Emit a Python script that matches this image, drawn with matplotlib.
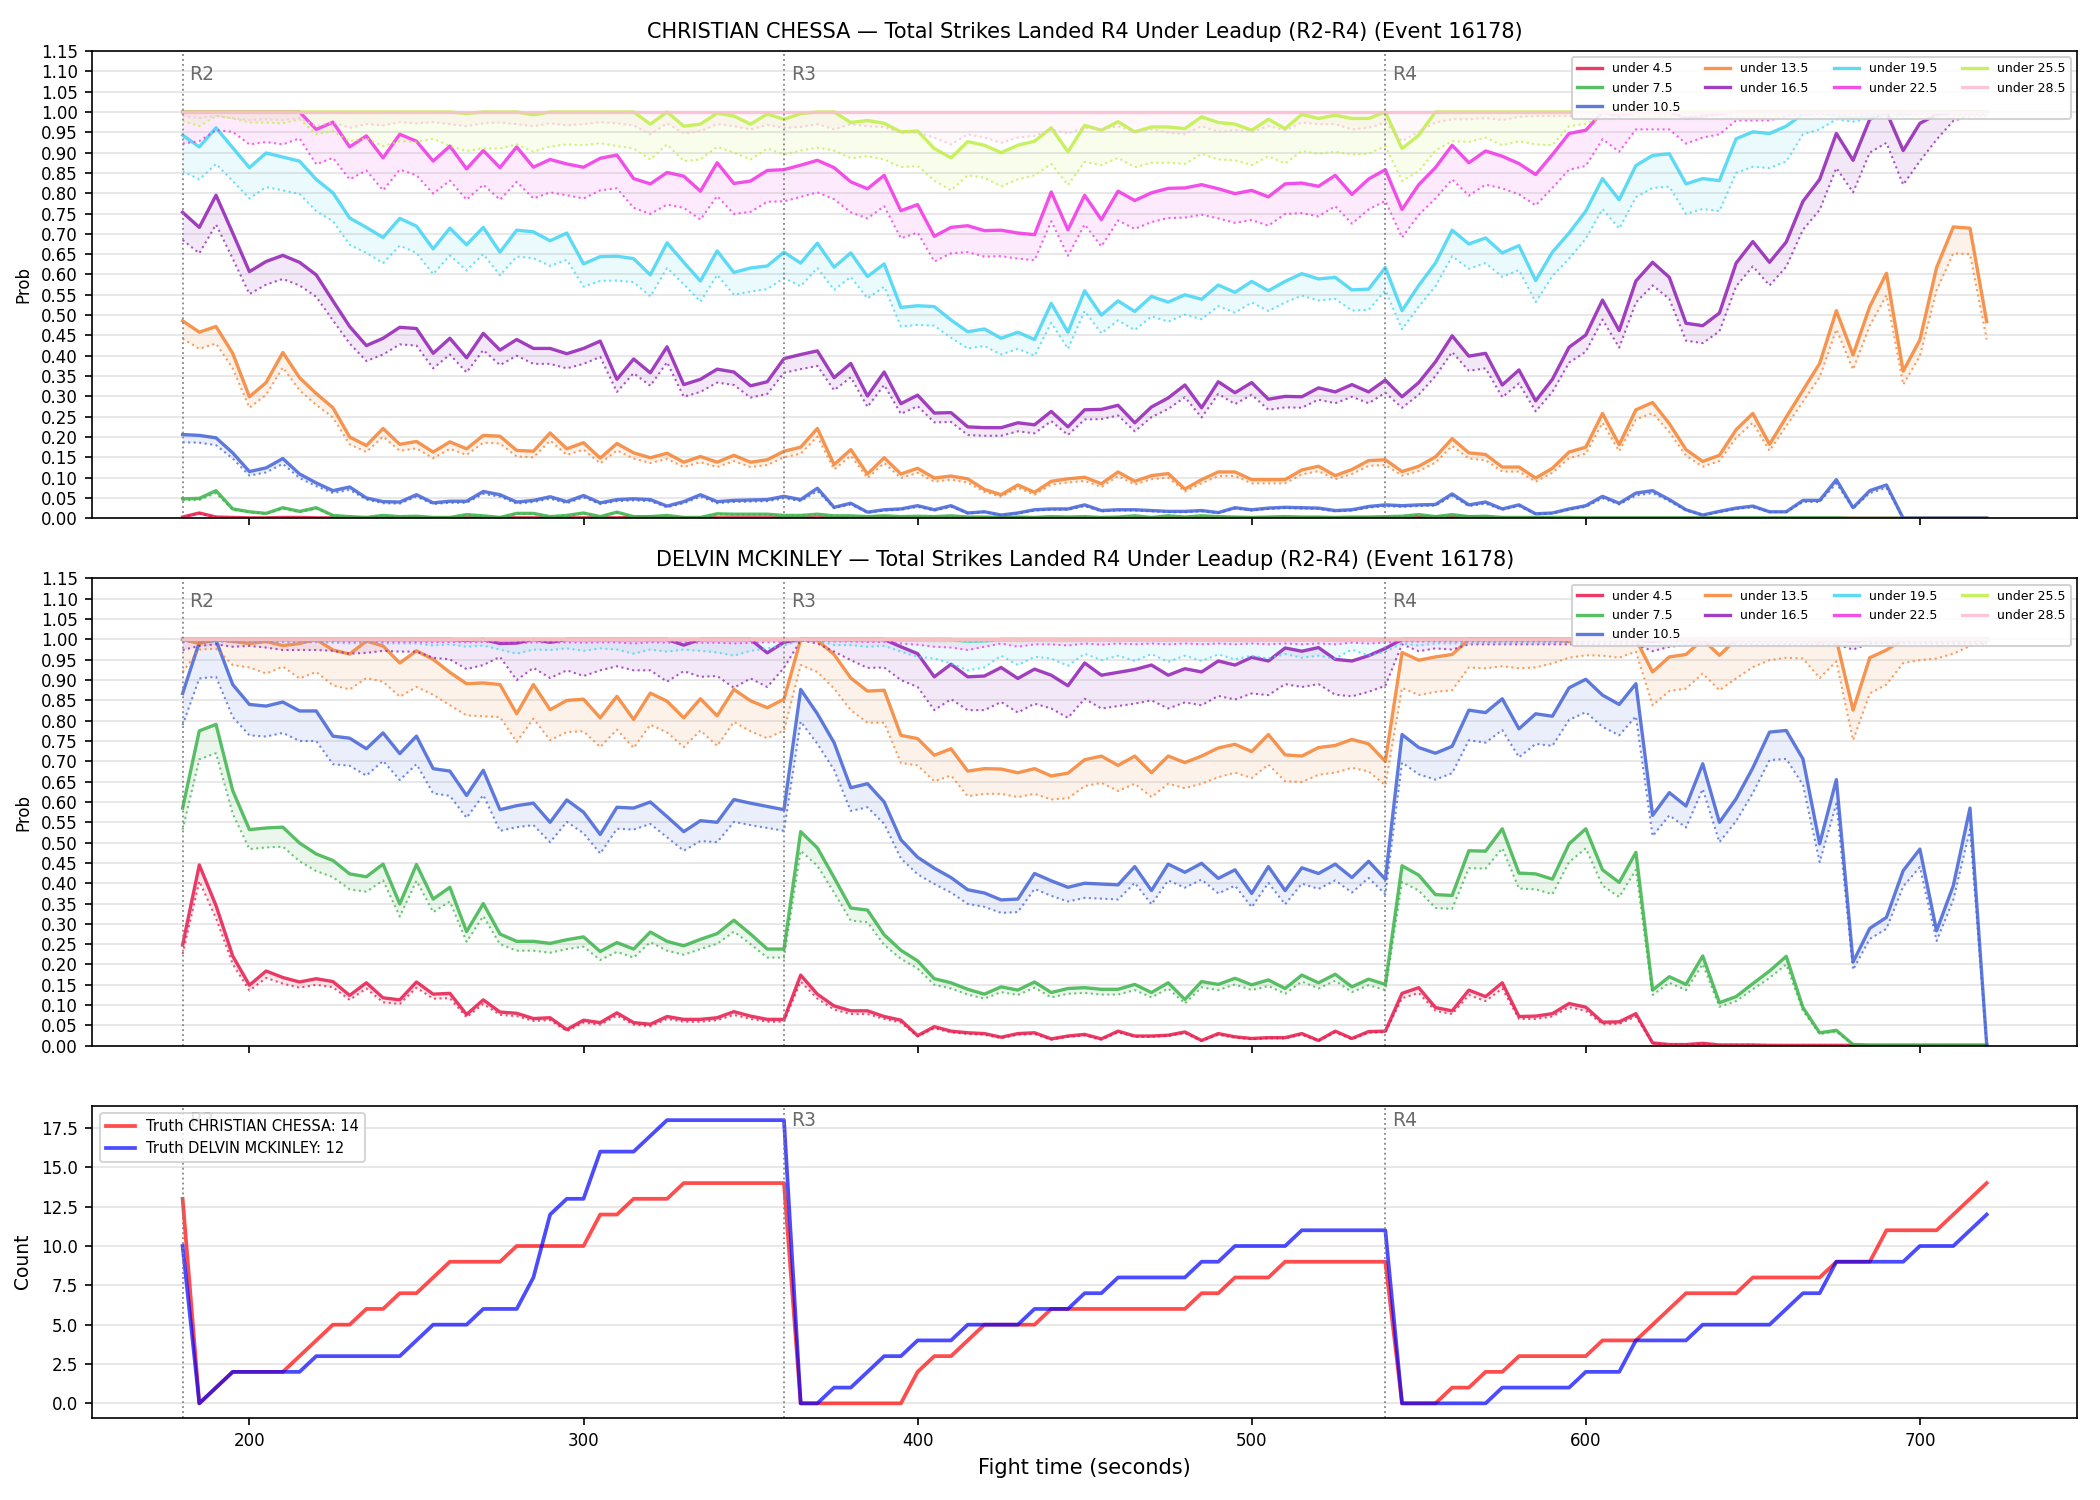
import numpy as np
import matplotlib
matplotlib.use('Agg')
from matplotlib import pyplot as plt

# sample every 5 s from the start of R2 to the end of R4
fight_time = np.arange(180, 725, 5)

line_labels = ['under 4.5', 'under 7.5', 'under 10.5', 'under 13.5', 'under 16.5',
               'under 19.5', 'under 22.5', 'under 25.5', 'under 28.5']
line_colors = ['#e6194b', '#3cb44b', '#4363d8', '#f58231', '#911eb4',
               '#42d4f4', '#f032e6', '#bfef45', '#fabed4']

round_names = ['R2', 'R3', 'R4']
round_starts = [180, 360, 540]

# ---------------- CHRISTIAN CHESSA (market prob / fair prob) ----------------
chessa_u45 = [
    0.003, 0.013, 0.003, 0.002, 0.001, 0.001, 0.002, 0.002, 0.001, 0.001, 0.001, 0.001, 0.002, 0.001, 0.001, 0.001, 0.001, 0.001, 0.001,
    0.001, 0.001, 0.001, 0.001, 0.001, 0.001, 0.001, 0.001, 0.002, 0.003, 0.001, 0.001, 0.001, 0.001, 0.001, 0.001, 0.001, 0.001,
    0.001, 0.001, 0.001, 0.001, 0.002, 0.003, 0.001, 0.001, 0.001, 0.001, 0.001, 0.001, 0.001, 0.001, 0.001, 0.001, 0.001, 0.001,
    0.001, 0.001, 0.001, 0.001, 0.001, 0.001, 0.001, 0.001, 0.001, 0.001, 0.001, 0.001, 0.001, 0.001, 0.001, 0.001, 0.001, 0.001,
    0.001, 0.002, 0.003, 0.002, 0.003, 0.002, 0.001, 0.001, 0.001, 0.000, 0.000, 0.000, 0.000, 0.000, 0.000, 0.000, 0.000, 0.000,
    0.000, 0.000, 0.000, 0.000, 0.000, 0.000, 0.000, 0.000, 0.000, 0.000, 0.000, 0.000, 0.000, 0.000, 0.000, 0.000, 0.000, 0.000]
chessa_u45_fair = [
    0.003, 0.012, 0.003, 0.002, 0.001, 0.001, 0.002, 0.002, 0.001, 0.001, 0.001, 0.001, 0.002, 0.001, 0.001, 0.001, 0.001, 0.001, 0.001,
    0.001, 0.001, 0.001, 0.001, 0.001, 0.001, 0.001, 0.001, 0.002, 0.003, 0.001, 0.001, 0.001, 0.001, 0.001, 0.001, 0.001, 0.001,
    0.001, 0.001, 0.001, 0.001, 0.002, 0.003, 0.001, 0.001, 0.001, 0.001, 0.001, 0.001, 0.001, 0.001, 0.001, 0.001, 0.001, 0.001,
    0.001, 0.001, 0.001, 0.001, 0.001, 0.001, 0.001, 0.001, 0.001, 0.001, 0.001, 0.001, 0.001, 0.001, 0.001, 0.001, 0.001, 0.001,
    0.001, 0.002, 0.003, 0.002, 0.003, 0.002, 0.001, 0.001, 0.001, 0.000, 0.000, 0.000, 0.000, 0.000, 0.000, 0.000, 0.000, 0.000,
    0.000, 0.000, 0.000, 0.000, 0.000, 0.000, 0.000, 0.000, 0.000, 0.000, 0.000, 0.000, 0.000, 0.000, 0.000, 0.000, 0.000, 0.000]

chessa_u75 = [
    0.048, 0.049, 0.068, 0.023, 0.016, 0.012, 0.026, 0.017, 0.026, 0.007, 0.004, 0.002, 0.007, 0.004, 0.005, 0.002, 0.002, 0.009, 0.006,
    0.002, 0.012, 0.012, 0.004, 0.007, 0.013, 0.004, 0.015, 0.004, 0.004, 0.007, 0.002, 0.002, 0.011, 0.010, 0.010, 0.010, 0.007,
    0.007, 0.010, 0.006, 0.006, 0.004, 0.006, 0.004, 0.005, 0.004, 0.006, 0.003, 0.003, 0.002, 0.003, 0.002, 0.004, 0.003, 0.004,
    0.002, 0.003, 0.006, 0.002, 0.006, 0.003, 0.006, 0.004, 0.003, 0.002, 0.003, 0.004, 0.003, 0.003, 0.002, 0.003, 0.003, 0.004,
    0.005, 0.009, 0.004, 0.009, 0.004, 0.005, 0.002, 0.002, 0.002, 0.002, 0.002, 0.001, 0.001, 0.001, 0.001, 0.001, 0.001, 0.001,
    0.001, 0.001, 0.001, 0.001, 0.001, 0.001, 0.001, 0.001, 0.001, 0.000, 0.000, 0.000, 0.000, 0.000, 0.000, 0.000, 0.000, 0.000]
chessa_u75_fair = [
    0.044, 0.045, 0.062, 0.021, 0.015, 0.011, 0.024, 0.015, 0.024, 0.006, 0.004, 0.002, 0.006, 0.004, 0.005, 0.002, 0.002, 0.008, 0.005,
    0.002, 0.011, 0.011, 0.004, 0.006, 0.012, 0.004, 0.014, 0.004, 0.004, 0.006, 0.002, 0.002, 0.010, 0.009, 0.009, 0.009, 0.006,
    0.006, 0.009, 0.005, 0.005, 0.004, 0.005, 0.004, 0.005, 0.004, 0.005, 0.003, 0.003, 0.002, 0.003, 0.002, 0.004, 0.003, 0.004,
    0.002, 0.003, 0.005, 0.002, 0.005, 0.003, 0.005, 0.004, 0.003, 0.002, 0.003, 0.004, 0.003, 0.003, 0.002, 0.003, 0.003, 0.004,
    0.005, 0.008, 0.004, 0.008, 0.004, 0.005, 0.002, 0.002, 0.002, 0.002, 0.002, 0.001, 0.001, 0.001, 0.001, 0.001, 0.001, 0.001,
    0.001, 0.001, 0.001, 0.001, 0.001, 0.001, 0.001, 0.001, 0.001, 0.000, 0.000, 0.000, 0.000, 0.000, 0.000, 0.000, 0.000, 0.000]

chessa_u105 = [
    0.206, 0.204, 0.198, 0.161, 0.115, 0.124, 0.147, 0.109, 0.087, 0.068, 0.077, 0.050, 0.041, 0.040, 0.058, 0.038, 0.042, 0.042, 0.066,
    0.058, 0.040, 0.044, 0.053, 0.041, 0.056, 0.038, 0.046, 0.048, 0.046, 0.030, 0.041, 0.058, 0.041, 0.044, 0.045, 0.046, 0.054,
    0.046, 0.074, 0.027, 0.037, 0.015, 0.021, 0.023, 0.031, 0.021, 0.031, 0.013, 0.016, 0.008, 0.013, 0.021, 0.023, 0.023, 0.033,
    0.019, 0.021, 0.021, 0.019, 0.017, 0.017, 0.019, 0.014, 0.026, 0.021, 0.025, 0.027, 0.026, 0.025, 0.019, 0.021, 0.029, 0.033,
    0.031, 0.033, 0.034, 0.060, 0.033, 0.040, 0.023, 0.033, 0.011, 0.013, 0.023, 0.031, 0.054, 0.037, 0.062, 0.068, 0.046, 0.021,
    0.008, 0.017, 0.025, 0.030, 0.016, 0.016, 0.044, 0.044, 0.095, 0.026, 0.068, 0.082, 0.000, 0.000, 0.000, 0.000, 0.000, 0.000]
chessa_u105_fair = [
    0.187, 0.186, 0.180, 0.147, 0.105, 0.113, 0.134, 0.099, 0.079, 0.062, 0.070, 0.046, 0.037, 0.036, 0.053, 0.035, 0.038, 0.038, 0.060,
    0.053, 0.036, 0.040, 0.048, 0.037, 0.051, 0.035, 0.042, 0.044, 0.042, 0.027, 0.037, 0.053, 0.037, 0.040, 0.041, 0.042, 0.049,
    0.042, 0.067, 0.025, 0.034, 0.014, 0.019, 0.021, 0.028, 0.019, 0.028, 0.012, 0.015, 0.007, 0.012, 0.019, 0.021, 0.021, 0.030,
    0.017, 0.019, 0.019, 0.017, 0.015, 0.015, 0.017, 0.013, 0.024, 0.019, 0.023, 0.025, 0.024, 0.023, 0.017, 0.019, 0.026, 0.030,
    0.028, 0.030, 0.031, 0.055, 0.030, 0.036, 0.021, 0.030, 0.010, 0.012, 0.021, 0.028, 0.049, 0.034, 0.056, 0.062, 0.042, 0.019,
    0.007, 0.015, 0.023, 0.027, 0.015, 0.015, 0.040, 0.040, 0.086, 0.024, 0.062, 0.075, 0.000, 0.000, 0.000, 0.000, 0.000, 0.000]

chessa_u135 = [
    0.486, 0.458, 0.472, 0.406, 0.299, 0.334, 0.408, 0.346, 0.307, 0.272, 0.200, 0.179, 0.221, 0.182, 0.189, 0.163, 0.188, 0.171, 0.204,
    0.202, 0.167, 0.165, 0.210, 0.171, 0.186, 0.148, 0.184, 0.161, 0.149, 0.160, 0.138, 0.152, 0.138, 0.155, 0.138, 0.144, 0.165,
    0.175, 0.221, 0.132, 0.169, 0.109, 0.149, 0.109, 0.123, 0.099, 0.104, 0.097, 0.071, 0.058, 0.082, 0.064, 0.091, 0.097, 0.101,
    0.085, 0.114, 0.091, 0.105, 0.110, 0.072, 0.095, 0.114, 0.114, 0.095, 0.095, 0.095, 0.119, 0.128, 0.105, 0.120, 0.142, 0.144,
    0.115, 0.128, 0.151, 0.196, 0.161, 0.157, 0.126, 0.126, 0.099, 0.123, 0.163, 0.175, 0.258, 0.181, 0.267, 0.285, 0.233, 0.169,
    0.140, 0.155, 0.218, 0.258, 0.182, 0.249, 0.315, 0.381, 0.511, 0.402, 0.521, 0.603, 0.362, 0.439, 0.617, 0.717, 0.714, 0.484]
chessa_u135_fair = [
    0.442, 0.417, 0.430, 0.369, 0.272, 0.304, 0.371, 0.315, 0.279, 0.248, 0.182, 0.163, 0.201, 0.166, 0.172, 0.148, 0.171, 0.156, 0.186,
    0.184, 0.152, 0.150, 0.191, 0.156, 0.169, 0.135, 0.167, 0.147, 0.136, 0.146, 0.126, 0.138, 0.126, 0.141, 0.126, 0.131, 0.150,
    0.159, 0.201, 0.120, 0.154, 0.099, 0.136, 0.099, 0.112, 0.090, 0.095, 0.088, 0.065, 0.053, 0.075, 0.058, 0.083, 0.088, 0.092,
    0.077, 0.104, 0.083, 0.096, 0.100, 0.066, 0.086, 0.104, 0.104, 0.086, 0.086, 0.086, 0.108, 0.116, 0.096, 0.109, 0.129, 0.131,
    0.105, 0.116, 0.137, 0.178, 0.147, 0.143, 0.115, 0.115, 0.090, 0.112, 0.148, 0.159, 0.235, 0.165, 0.243, 0.259, 0.212, 0.154,
    0.127, 0.141, 0.198, 0.235, 0.166, 0.227, 0.287, 0.347, 0.465, 0.366, 0.474, 0.549, 0.329, 0.399, 0.561, 0.652, 0.650, 0.440]

chessa_u165 = [
    0.753, 0.716, 0.795, 0.702, 0.607, 0.632, 0.647, 0.630, 0.599, 0.535, 0.472, 0.425, 0.443, 0.470, 0.467, 0.406, 0.443, 0.395, 0.455,
    0.414, 0.440, 0.418, 0.418, 0.405, 0.418, 0.436, 0.342, 0.392, 0.358, 0.422, 0.329, 0.342, 0.367, 0.360, 0.326, 0.336, 0.393,
    0.403, 0.412, 0.346, 0.381, 0.301, 0.360, 0.282, 0.303, 0.259, 0.260, 0.225, 0.223, 0.223, 0.235, 0.230, 0.263, 0.225, 0.267,
    0.268, 0.278, 0.235, 0.274, 0.296, 0.328, 0.272, 0.336, 0.309, 0.334, 0.293, 0.300, 0.299, 0.321, 0.311, 0.329, 0.311, 0.340,
    0.299, 0.334, 0.385, 0.449, 0.399, 0.406, 0.328, 0.365, 0.289, 0.342, 0.421, 0.451, 0.537, 0.462, 0.584, 0.630, 0.593, 0.480,
    0.474, 0.505, 0.628, 0.681, 0.630, 0.680, 0.780, 0.834, 0.947, 0.881, 0.982, 1.000, 0.905, 0.972, 0.994, 1.000, 1.000, 1.000]
chessa_u165_fair = [
    0.685, 0.652, 0.723, 0.639, 0.552, 0.575, 0.589, 0.573, 0.545, 0.487, 0.430, 0.387, 0.403, 0.428, 0.425, 0.369, 0.403, 0.359, 0.414,
    0.377, 0.400, 0.380, 0.380, 0.369, 0.380, 0.397, 0.311, 0.357, 0.326, 0.384, 0.299, 0.311, 0.334, 0.328, 0.297, 0.306, 0.358,
    0.367, 0.375, 0.315, 0.347, 0.274, 0.328, 0.257, 0.276, 0.236, 0.237, 0.205, 0.203, 0.203, 0.214, 0.209, 0.239, 0.205, 0.243,
    0.244, 0.253, 0.214, 0.249, 0.269, 0.298, 0.248, 0.306, 0.281, 0.304, 0.267, 0.273, 0.272, 0.292, 0.283, 0.299, 0.283, 0.309,
    0.272, 0.304, 0.350, 0.409, 0.363, 0.369, 0.298, 0.332, 0.263, 0.311, 0.383, 0.410, 0.489, 0.420, 0.531, 0.573, 0.540, 0.437,
    0.431, 0.460, 0.571, 0.620, 0.573, 0.619, 0.710, 0.759, 0.862, 0.802, 0.900, 0.924, 0.821, 0.879, 0.932, 0.978, 0.990, 0.990]

chessa_u195 = [
    0.943, 0.914, 0.961, 0.912, 0.863, 0.899, 0.889, 0.879, 0.834, 0.801, 0.739, 0.716, 0.691, 0.738, 0.719, 0.663, 0.714, 0.673, 0.716,
    0.655, 0.709, 0.705, 0.683, 0.702, 0.626, 0.644, 0.645, 0.639, 0.599, 0.678, 0.630, 0.584, 0.658, 0.605, 0.616, 0.621, 0.655,
    0.628, 0.677, 0.618, 0.653, 0.595, 0.626, 0.519, 0.523, 0.521, 0.488, 0.459, 0.466, 0.443, 0.458, 0.440, 0.529, 0.458, 0.560,
    0.500, 0.535, 0.509, 0.546, 0.532, 0.550, 0.539, 0.574, 0.556, 0.583, 0.560, 0.583, 0.602, 0.589, 0.593, 0.562, 0.564, 0.617,
    0.511, 0.573, 0.628, 0.709, 0.675, 0.690, 0.653, 0.671, 0.585, 0.655, 0.702, 0.756, 0.836, 0.784, 0.868, 0.893, 0.897, 0.823,
    0.836, 0.831, 0.934, 0.951, 0.947, 0.965, 0.995, 1.000, 0.990, 0.985, 0.990, 1.000, 0.995, 1.000, 1.000, 1.000, 1.000, 1.000]
chessa_u195_fair = [
    0.854, 0.834, 0.872, 0.830, 0.787, 0.815, 0.807, 0.798, 0.756, 0.731, 0.673, 0.653, 0.628, 0.671, 0.653, 0.601, 0.647, 0.610, 0.650,
    0.598, 0.644, 0.640, 0.621, 0.636, 0.570, 0.584, 0.585, 0.581, 0.546, 0.616, 0.576, 0.533, 0.599, 0.550, 0.558, 0.564, 0.591,
    0.571, 0.616, 0.562, 0.594, 0.541, 0.570, 0.472, 0.476, 0.474, 0.444, 0.418, 0.424, 0.403, 0.417, 0.400, 0.481, 0.417, 0.510,
    0.455, 0.487, 0.463, 0.497, 0.484, 0.501, 0.490, 0.522, 0.506, 0.531, 0.510, 0.531, 0.548, 0.536, 0.540, 0.511, 0.513, 0.561,
    0.465, 0.521, 0.571, 0.645, 0.614, 0.628, 0.594, 0.611, 0.532, 0.596, 0.639, 0.688, 0.761, 0.713, 0.790, 0.813, 0.816, 0.749,
    0.761, 0.756, 0.850, 0.865, 0.862, 0.878, 0.945, 0.957, 0.982, 0.976, 0.985, 0.988, 0.990, 0.990, 0.990, 0.990, 0.990, 0.990]

chessa_u225 = [
    1.000, 1.000, 1.000, 1.000, 1.000, 1.000, 1.000, 1.000, 0.957, 0.975, 0.914, 0.941, 0.887, 0.945, 0.928, 0.879, 0.916, 0.860, 0.905,
    0.863, 0.914, 0.864, 0.883, 0.872, 0.864, 0.886, 0.894, 0.836, 0.823, 0.851, 0.842, 0.805, 0.875, 0.824, 0.830, 0.856, 0.858,
    0.869, 0.881, 0.863, 0.828, 0.811, 0.844, 0.757, 0.772, 0.694, 0.716, 0.720, 0.708, 0.709, 0.702, 0.698, 0.803, 0.710, 0.795,
    0.735, 0.805, 0.782, 0.801, 0.812, 0.813, 0.821, 0.811, 0.799, 0.807, 0.791, 0.823, 0.825, 0.817, 0.844, 0.797, 0.835, 0.858,
    0.760, 0.821, 0.863, 0.918, 0.875, 0.904, 0.891, 0.873, 0.846, 0.895, 0.947, 0.955, 1.000, 0.990, 1.000, 1.000, 1.000, 0.985,
    0.990, 0.995, 1.000, 1.000, 1.000, 1.000, 1.000, 1.000, 1.000, 1.000, 1.000, 1.000, 1.000, 1.000, 1.000, 1.000, 1.000, 1.000]
chessa_u225_fair = [
    0.922, 0.928, 0.955, 0.951, 0.920, 0.926, 0.920, 0.935, 0.871, 0.887, 0.834, 0.856, 0.807, 0.858, 0.844, 0.799, 0.831, 0.784, 0.821,
    0.784, 0.828, 0.787, 0.802, 0.795, 0.787, 0.807, 0.812, 0.764, 0.749, 0.772, 0.764, 0.735, 0.793, 0.749, 0.754, 0.779, 0.780,
    0.791, 0.802, 0.785, 0.753, 0.738, 0.768, 0.689, 0.703, 0.632, 0.652, 0.655, 0.644, 0.645, 0.639, 0.635, 0.731, 0.646, 0.723,
    0.669, 0.733, 0.712, 0.729, 0.739, 0.740, 0.747, 0.738, 0.727, 0.734, 0.720, 0.749, 0.751, 0.743, 0.768, 0.725, 0.760, 0.781,
    0.691, 0.747, 0.787, 0.834, 0.794, 0.821, 0.812, 0.797, 0.770, 0.813, 0.858, 0.867, 0.933, 0.902, 0.957, 0.957, 0.957, 0.922,
    0.937, 0.945, 0.979, 0.979, 0.979, 0.990, 0.994, 0.995, 0.995, 0.995, 0.995, 0.995, 0.995, 0.995, 0.995, 0.995, 0.995, 0.995]

chessa_u255 = [
    1.000, 1.000, 1.000, 1.000, 1.000, 1.000, 1.000, 1.000, 1.000, 1.000, 1.000, 1.000, 1.000, 1.000, 1.000, 1.000, 1.000, 0.996, 1.000,
    1.000, 1.000, 0.993, 1.000, 1.000, 1.000, 1.000, 1.000, 1.000, 0.970, 1.000, 0.965, 0.970, 0.997, 0.990, 0.970, 0.995, 0.982,
    0.996, 1.000, 1.000, 0.974, 0.979, 0.972, 0.951, 0.953, 0.910, 0.887, 0.927, 0.918, 0.900, 0.918, 0.928, 0.961, 0.902, 0.967,
    0.955, 0.976, 0.951, 0.963, 0.963, 0.959, 0.988, 0.974, 0.970, 0.955, 0.982, 0.959, 0.994, 0.984, 0.992, 0.984, 0.984, 1.000,
    0.910, 0.943, 1.000, 1.000, 1.000, 1.000, 1.000, 1.000, 1.000, 1.000, 1.000, 1.000, 1.000, 1.000, 1.000, 1.000, 1.000, 1.000,
    1.000, 1.000, 1.000, 1.000, 1.000, 1.000, 1.000, 1.000, 1.000, 1.000, 1.000, 1.000, 1.000, 1.000, 1.000, 1.000, 1.000, 1.000]
chessa_u255_fair = [
    0.978, 0.965, 0.990, 0.984, 0.974, 0.974, 0.972, 0.982, 0.945, 0.953, 0.928, 0.935, 0.916, 0.928, 0.926, 0.934, 0.916, 0.904, 0.910,
    0.910, 0.920, 0.902, 0.915, 0.920, 0.918, 0.923, 0.916, 0.910, 0.883, 0.920, 0.879, 0.883, 0.914, 0.900, 0.883, 0.910, 0.895,
    0.905, 0.912, 0.905, 0.886, 0.891, 0.883, 0.864, 0.867, 0.831, 0.807, 0.844, 0.838, 0.817, 0.834, 0.844, 0.872, 0.820, 0.877,
    0.869, 0.887, 0.864, 0.875, 0.875, 0.872, 0.897, 0.883, 0.881, 0.869, 0.891, 0.873, 0.904, 0.897, 0.902, 0.895, 0.897, 0.916,
    0.830, 0.854, 0.905, 0.928, 0.926, 0.937, 0.918, 0.928, 0.920, 0.918, 0.965, 0.971, 0.985, 0.990, 0.990, 0.985, 0.990, 0.990,
    0.990, 0.990, 0.985, 0.990, 0.990, 0.990, 0.990, 0.990, 0.990, 0.990, 0.990, 0.990, 0.990, 0.990, 0.990, 0.990, 0.990, 0.990]

chessa_u285 = [
    1.000, 1.000, 1.000, 1.000, 1.000, 1.000, 1.000, 1.000, 1.000, 1.000, 1.000, 1.000, 1.000, 1.000, 1.000, 1.000, 1.000, 1.000, 1.000,
    1.000, 1.000, 1.000, 1.000, 1.000, 1.000, 1.000, 1.000, 1.000, 1.000, 1.000, 1.000, 1.000, 1.000, 1.000, 1.000, 1.000, 1.000,
    1.000, 1.000, 1.000, 1.000, 1.000, 1.000, 1.000, 1.000, 1.000, 1.000, 1.000, 1.000, 1.000, 1.000, 1.000, 1.000, 1.000, 1.000,
    1.000, 1.000, 1.000, 1.000, 1.000, 1.000, 1.000, 1.000, 1.000, 1.000, 1.000, 1.000, 1.000, 1.000, 1.000, 1.000, 1.000, 1.000,
    1.000, 1.000, 1.000, 1.000, 1.000, 1.000, 1.000, 1.000, 1.000, 1.000, 1.000, 1.000, 1.000, 1.000, 1.000, 1.000, 1.000, 1.000,
    1.000, 1.000, 1.000, 1.000, 1.000, 1.000, 1.000, 1.000, 1.000, 1.000, 1.000, 1.000, 1.000, 1.000, 1.000, 1.000, 1.000, 1.000]
chessa_u285_fair = [
    0.990, 0.985, 0.990, 0.985, 0.980, 0.982, 0.980, 0.985, 0.965, 0.975, 0.961, 0.970, 0.967, 0.975, 0.972, 0.975, 0.970, 0.965, 0.972,
    0.974, 0.970, 0.965, 0.972, 0.967, 0.970, 0.975, 0.972, 0.967, 0.945, 0.972, 0.947, 0.953, 0.970, 0.965, 0.957, 0.968, 0.961,
    0.963, 0.970, 0.957, 0.970, 0.965, 0.963, 0.949, 0.949, 0.937, 0.920, 0.945, 0.937, 0.924, 0.937, 0.941, 0.957, 0.947, 0.961,
    0.957, 0.965, 0.951, 0.957, 0.949, 0.945, 0.965, 0.951, 0.955, 0.951, 0.965, 0.955, 0.974, 0.970, 0.970, 0.957, 0.961, 0.974,
    0.928, 0.951, 0.974, 0.982, 0.982, 0.985, 0.980, 0.988, 0.990, 0.990, 0.990, 0.990, 0.990, 0.990, 0.990, 0.990, 0.990, 0.990,
    0.990, 0.990, 0.990, 0.990, 0.990, 0.990, 0.990, 0.990, 0.990, 0.990, 0.990, 0.990, 0.990, 0.990, 0.990, 0.990, 0.990, 0.990]

# ---------------- DELVIN MCKINLEY ----------------
kinley_u45 = [
    0.248, 0.445, 0.345, 0.221, 0.149, 0.184, 0.168, 0.157, 0.165, 0.158, 0.124, 0.155, 0.118, 0.113, 0.157, 0.127, 0.129, 0.077, 0.113,
    0.083, 0.080, 0.067, 0.069, 0.040, 0.063, 0.057, 0.081, 0.057, 0.053, 0.072, 0.065, 0.065, 0.069, 0.084, 0.073, 0.065, 0.065,
    0.174, 0.127, 0.098, 0.086, 0.086, 0.072, 0.063, 0.025, 0.047, 0.036, 0.032, 0.030, 0.021, 0.030, 0.032, 0.017, 0.024, 0.028,
    0.017, 0.036, 0.024, 0.024, 0.026, 0.034, 0.013, 0.030, 0.022, 0.018, 0.020, 0.020, 0.030, 0.013, 0.036, 0.018, 0.035, 0.036,
    0.129, 0.143, 0.094, 0.086, 0.137, 0.121, 0.155, 0.072, 0.073, 0.079, 0.104, 0.095, 0.058, 0.059, 0.079, 0.007, 0.003, 0.003,
    0.006, 0.002, 0.002, 0.002, 0.001, 0.001, 0.001, 0.001, 0.001, 0.001, 0.000, 0.000, 0.000, 0.000, 0.000, 0.000, 0.000, 0.000]
kinley_u45_fair = [
    0.226, 0.405, 0.314, 0.201, 0.136, 0.167, 0.153, 0.143, 0.150, 0.144, 0.113, 0.141, 0.107, 0.103, 0.143, 0.116, 0.117, 0.070, 0.103,
    0.076, 0.073, 0.061, 0.063, 0.036, 0.057, 0.052, 0.074, 0.052, 0.048, 0.066, 0.059, 0.059, 0.063, 0.076, 0.066, 0.059, 0.059,
    0.158, 0.116, 0.089, 0.078, 0.078, 0.066, 0.057, 0.023, 0.043, 0.033, 0.029, 0.027, 0.019, 0.027, 0.029, 0.015, 0.022, 0.025,
    0.015, 0.033, 0.022, 0.022, 0.024, 0.031, 0.012, 0.027, 0.020, 0.016, 0.018, 0.018, 0.027, 0.012, 0.033, 0.016, 0.032, 0.033,
    0.117, 0.130, 0.086, 0.078, 0.125, 0.110, 0.141, 0.066, 0.066, 0.072, 0.095, 0.086, 0.053, 0.054, 0.072, 0.006, 0.003, 0.003,
    0.005, 0.002, 0.002, 0.002, 0.001, 0.001, 0.001, 0.001, 0.001, 0.001, 0.000, 0.000, 0.000, 0.000, 0.000, 0.000, 0.000, 0.000]

kinley_u75 = [
    0.585, 0.775, 0.791, 0.628, 0.532, 0.536, 0.538, 0.499, 0.472, 0.456, 0.423, 0.416, 0.447, 0.349, 0.446, 0.361, 0.390, 0.281, 0.350,
    0.275, 0.257, 0.257, 0.252, 0.261, 0.268, 0.232, 0.254, 0.238, 0.280, 0.257, 0.246, 0.262, 0.276, 0.309, 0.275, 0.238, 0.238,
    0.527, 0.487, 0.414, 0.339, 0.334, 0.273, 0.235, 0.209, 0.165, 0.155, 0.139, 0.127, 0.145, 0.137, 0.157, 0.131, 0.141, 0.143,
    0.139, 0.139, 0.151, 0.131, 0.155, 0.114, 0.158, 0.151, 0.166, 0.150, 0.162, 0.141, 0.174, 0.155, 0.176, 0.145, 0.164, 0.151,
    0.443, 0.420, 0.372, 0.370, 0.480, 0.479, 0.534, 0.425, 0.423, 0.410, 0.497, 0.534, 0.433, 0.402, 0.476, 0.137, 0.170, 0.151,
    0.221, 0.106, 0.121, 0.153, 0.184, 0.220, 0.094, 0.032, 0.038, 0.003, 0.002, 0.002, 0.002, 0.002, 0.002, 0.002, 0.002, 0.002]
kinley_u75_fair = [
    0.532, 0.705, 0.720, 0.571, 0.484, 0.488, 0.490, 0.454, 0.430, 0.415, 0.385, 0.379, 0.407, 0.318, 0.406, 0.329, 0.355, 0.256, 0.319,
    0.250, 0.234, 0.234, 0.229, 0.238, 0.244, 0.211, 0.231, 0.217, 0.255, 0.234, 0.224, 0.238, 0.251, 0.281, 0.250, 0.217, 0.217,
    0.480, 0.443, 0.377, 0.308, 0.304, 0.248, 0.214, 0.190, 0.150, 0.141, 0.126, 0.116, 0.132, 0.125, 0.143, 0.119, 0.128, 0.130,
    0.126, 0.126, 0.137, 0.119, 0.141, 0.104, 0.144, 0.137, 0.151, 0.137, 0.147, 0.128, 0.158, 0.141, 0.160, 0.132, 0.149, 0.137,
    0.403, 0.382, 0.339, 0.337, 0.437, 0.436, 0.486, 0.387, 0.385, 0.373, 0.452, 0.486, 0.394, 0.366, 0.433, 0.125, 0.155, 0.137,
    0.201, 0.096, 0.110, 0.139, 0.167, 0.200, 0.086, 0.029, 0.035, 0.003, 0.002, 0.002, 0.002, 0.002, 0.002, 0.002, 0.002, 0.002]

kinley_u105 = [
    0.867, 0.993, 0.998, 0.889, 0.840, 0.836, 0.846, 0.824, 0.824, 0.762, 0.757, 0.731, 0.770, 0.719, 0.762, 0.682, 0.676, 0.616, 0.678,
    0.581, 0.591, 0.597, 0.550, 0.605, 0.575, 0.520, 0.587, 0.585, 0.600, 0.564, 0.527, 0.554, 0.550, 0.606, 0.597, 0.589, 0.581,
    0.877, 0.817, 0.746, 0.635, 0.645, 0.600, 0.507, 0.464, 0.437, 0.414, 0.384, 0.376, 0.359, 0.361, 0.424, 0.406, 0.390, 0.400,
    0.398, 0.396, 0.441, 0.382, 0.447, 0.427, 0.449, 0.412, 0.433, 0.375, 0.441, 0.382, 0.438, 0.424, 0.447, 0.414, 0.454, 0.410,
    0.766, 0.734, 0.720, 0.737, 0.826, 0.820, 0.854, 0.780, 0.817, 0.811, 0.881, 0.902, 0.863, 0.840, 0.891, 0.567, 0.623, 0.590,
    0.694, 0.550, 0.608, 0.684, 0.772, 0.776, 0.706, 0.497, 0.655, 0.206, 0.289, 0.316, 0.431, 0.484, 0.283, 0.394, 0.585, 0.003]
kinley_u105_fair = [
    0.789, 0.904, 0.908, 0.809, 0.764, 0.761, 0.770, 0.750, 0.750, 0.693, 0.689, 0.665, 0.701, 0.654, 0.693, 0.621, 0.615, 0.561, 0.617,
    0.529, 0.538, 0.543, 0.501, 0.551, 0.523, 0.473, 0.534, 0.532, 0.546, 0.513, 0.480, 0.504, 0.501, 0.551, 0.543, 0.536, 0.529,
    0.798, 0.743, 0.679, 0.578, 0.587, 0.546, 0.461, 0.422, 0.398, 0.377, 0.349, 0.342, 0.327, 0.329, 0.386, 0.369, 0.355, 0.364,
    0.362, 0.360, 0.401, 0.348, 0.407, 0.389, 0.409, 0.375, 0.394, 0.341, 0.401, 0.348, 0.399, 0.386, 0.407, 0.377, 0.413, 0.373,
    0.697, 0.668, 0.655, 0.671, 0.752, 0.746, 0.777, 0.710, 0.743, 0.738, 0.802, 0.821, 0.785, 0.764, 0.811, 0.516, 0.567, 0.537,
    0.632, 0.501, 0.553, 0.622, 0.703, 0.706, 0.642, 0.452, 0.596, 0.187, 0.263, 0.288, 0.392, 0.440, 0.258, 0.359, 0.532, 0.003]

kinley_u135 = [
    1.000, 0.990, 1.000, 0.995, 0.990, 0.995, 0.985, 0.990, 1.000, 0.974, 0.964, 0.996, 0.984, 0.942, 0.972, 0.951, 0.919, 0.891, 0.893,
    0.889, 0.817, 0.889, 0.827, 0.850, 0.853, 0.807, 0.860, 0.803, 0.868, 0.848, 0.807, 0.854, 0.812, 0.877, 0.849, 0.832, 0.853,
    1.000, 0.998, 0.963, 0.905, 0.873, 0.875, 0.764, 0.756, 0.715, 0.731, 0.676, 0.682, 0.681, 0.672, 0.682, 0.664, 0.671, 0.704,
    0.713, 0.690, 0.713, 0.672, 0.713, 0.697, 0.713, 0.733, 0.742, 0.724, 0.766, 0.716, 0.713, 0.734, 0.739, 0.754, 0.743, 0.700,
    0.968, 0.949, 0.957, 0.963, 1.000, 1.000, 1.000, 1.000, 1.000, 1.000, 0.995, 1.000, 1.000, 1.000, 1.000, 0.920, 0.957, 0.963,
    1.000, 0.961, 1.000, 1.000, 1.000, 1.000, 1.000, 0.995, 1.000, 0.826, 0.955, 0.974, 1.000, 1.000, 1.000, 1.000, 1.000, 1.000]
kinley_u135_fair = [
    0.920, 0.975, 0.977, 0.937, 0.931, 0.916, 0.933, 0.904, 0.920, 0.887, 0.877, 0.905, 0.896, 0.859, 0.883, 0.864, 0.838, 0.813, 0.811,
    0.809, 0.748, 0.805, 0.752, 0.772, 0.774, 0.735, 0.778, 0.733, 0.790, 0.771, 0.735, 0.776, 0.738, 0.797, 0.774, 0.757, 0.776,
    0.937, 0.920, 0.879, 0.826, 0.795, 0.795, 0.696, 0.690, 0.651, 0.665, 0.614, 0.620, 0.620, 0.612, 0.620, 0.606, 0.609, 0.639,
    0.647, 0.627, 0.645, 0.612, 0.645, 0.634, 0.645, 0.661, 0.672, 0.659, 0.692, 0.651, 0.649, 0.667, 0.672, 0.684, 0.675, 0.641,
    0.881, 0.863, 0.871, 0.875, 0.931, 0.929, 0.934, 0.929, 0.931, 0.941, 0.955, 0.961, 0.960, 0.955, 0.970, 0.838, 0.873, 0.879,
    0.916, 0.875, 0.904, 0.932, 0.949, 0.955, 0.953, 0.905, 0.946, 0.752, 0.867, 0.889, 0.942, 0.949, 0.953, 0.965, 0.984, 0.990]

kinley_u165 = [
    1.000, 1.000, 1.000, 1.000, 1.000, 1.000, 1.000, 1.000, 1.000, 1.000, 1.000, 1.000, 1.000, 1.000, 1.000, 1.000, 1.000, 0.998, 1.000,
    0.990, 0.991, 1.000, 0.993, 1.000, 1.000, 1.000, 1.000, 1.000, 1.000, 1.000, 0.986, 1.000, 1.000, 1.000, 1.000, 0.967, 0.993,
    1.000, 1.000, 1.000, 1.000, 1.000, 1.000, 0.982, 0.965, 0.908, 0.939, 0.908, 0.910, 0.931, 0.904, 0.927, 0.912, 0.886, 0.942,
    0.912, 0.919, 0.926, 0.937, 0.912, 0.928, 0.920, 0.947, 0.937, 0.956, 0.947, 0.979, 0.971, 0.980, 0.951, 0.947, 0.960, 0.978,
    1.000, 1.000, 1.000, 1.000, 1.000, 1.000, 1.000, 1.000, 1.000, 1.000, 1.000, 1.000, 1.000, 1.000, 1.000, 0.995, 1.000, 1.000,
    1.000, 1.000, 1.000, 1.000, 1.000, 1.000, 1.000, 1.000, 1.000, 0.995, 1.000, 1.000, 1.000, 1.000, 1.000, 1.000, 1.000, 1.000]
kinley_u165_fair = [
    0.974, 0.984, 0.988, 0.982, 0.984, 0.980, 0.974, 0.974, 0.974, 0.972, 0.965, 0.967, 0.972, 0.970, 0.970, 0.955, 0.951, 0.927, 0.937,
    0.957, 0.900, 0.930, 0.905, 0.924, 0.910, 0.924, 0.934, 0.924, 0.924, 0.896, 0.922, 0.908, 0.910, 0.881, 0.904, 0.883, 0.930,
    0.998, 0.990, 0.970, 0.949, 0.930, 0.931, 0.900, 0.883, 0.826, 0.853, 0.826, 0.826, 0.846, 0.820, 0.842, 0.830, 0.807, 0.854,
    0.830, 0.836, 0.842, 0.850, 0.830, 0.845, 0.838, 0.861, 0.852, 0.867, 0.863, 0.890, 0.883, 0.890, 0.864, 0.860, 0.871, 0.886,
    0.988, 0.971, 0.978, 0.975, 0.988, 0.988, 0.988, 0.988, 0.988, 0.988, 0.988, 0.988, 0.988, 0.988, 0.988, 0.971, 0.982, 0.986,
    0.988, 0.988, 0.988, 0.988, 0.988, 0.988, 0.988, 0.988, 0.988, 0.975, 0.990, 0.990, 0.990, 0.990, 0.990, 0.990, 0.990, 0.990]

kinley_u195 = [
    1.000, 1.000, 1.000, 1.000, 1.000, 1.000, 1.000, 1.000, 1.000, 1.000, 1.000, 1.000, 1.000, 1.000, 1.000, 1.000, 1.000, 1.000, 1.000,
    1.000, 1.000, 1.000, 1.000, 1.000, 1.000, 1.000, 1.000, 1.000, 1.000, 1.000, 1.000, 1.000, 1.000, 1.000, 1.000, 1.000, 1.000,
    1.000, 1.000, 1.000, 1.000, 1.000, 1.000, 1.000, 1.000, 1.000, 1.000, 0.995, 0.996, 1.000, 1.000, 1.000, 1.000, 1.000, 1.000,
    1.000, 1.000, 1.000, 1.000, 1.000, 1.000, 1.000, 1.000, 1.000, 1.000, 1.000, 1.000, 1.000, 1.000, 1.000, 1.000, 1.000, 1.000,
    1.000, 1.000, 1.000, 1.000, 1.000, 1.000, 1.000, 1.000, 1.000, 1.000, 1.000, 1.000, 1.000, 1.000, 1.000, 1.000, 1.000, 1.000,
    1.000, 1.000, 1.000, 1.000, 1.000, 1.000, 1.000, 1.000, 1.000, 1.000, 1.000, 1.000, 1.000, 1.000, 1.000, 1.000, 1.000, 1.000]
kinley_u195_fair = [
    0.994, 0.995, 0.995, 0.994, 0.994, 0.993, 0.994, 0.993, 0.993, 0.992, 0.990, 0.992, 0.990, 0.990, 0.990, 0.985, 0.988, 0.982, 0.985,
    0.975, 0.965, 0.975, 0.974, 0.978, 0.972, 0.978, 0.975, 0.965, 0.975, 0.970, 0.975, 0.972, 0.968, 0.960, 0.972, 0.978, 0.985,
    0.998, 0.998, 0.986, 0.986, 0.982, 0.984, 0.970, 0.957, 0.953, 0.941, 0.924, 0.931, 0.960, 0.937, 0.957, 0.953, 0.935, 0.965,
    0.949, 0.960, 0.947, 0.964, 0.945, 0.960, 0.947, 0.963, 0.951, 0.960, 0.953, 0.964, 0.955, 0.960, 0.953, 0.975, 0.960, 0.970,
    0.990, 0.985, 0.990, 0.990, 0.990, 0.992, 0.990, 0.992, 0.990, 0.992, 0.992, 0.993, 0.993, 0.993, 0.993, 0.985, 0.990, 0.990,
    0.992, 0.990, 0.992, 0.993, 0.993, 0.993, 0.993, 0.992, 0.993, 0.985, 0.990, 0.992, 0.993, 0.993, 0.994, 0.994, 0.995, 0.995]

kinley_u225 = [
    1.000, 1.000, 1.000, 1.000, 1.000, 1.000, 1.000, 1.000, 1.000, 1.000, 1.000, 1.000, 1.000, 1.000, 1.000, 1.000, 1.000, 1.000, 1.000,
    1.000, 1.000, 1.000, 1.000, 1.000, 1.000, 1.000, 1.000, 1.000, 1.000, 1.000, 1.000, 1.000, 1.000, 1.000, 1.000, 1.000, 1.000,
    1.000, 1.000, 1.000, 1.000, 1.000, 1.000, 1.000, 1.000, 1.000, 1.000, 1.000, 1.000, 1.000, 1.000, 1.000, 1.000, 1.000, 1.000,
    1.000, 1.000, 1.000, 1.000, 1.000, 1.000, 1.000, 1.000, 1.000, 1.000, 1.000, 1.000, 1.000, 1.000, 1.000, 1.000, 1.000, 1.000,
    1.000, 1.000, 1.000, 1.000, 1.000, 1.000, 1.000, 1.000, 1.000, 1.000, 1.000, 1.000, 1.000, 1.000, 1.000, 1.000, 1.000, 1.000,
    1.000, 1.000, 1.000, 1.000, 1.000, 1.000, 1.000, 1.000, 1.000, 1.000, 1.000, 1.000, 1.000, 1.000, 1.000, 1.000, 1.000, 1.000]
kinley_u225_fair = [
    0.995, 0.996, 0.996, 0.995, 0.995, 0.995, 0.995, 0.995, 0.995, 0.995, 0.994, 0.995, 0.994, 0.994, 0.994, 0.993, 0.994, 0.993, 0.994,
    0.993, 0.990, 0.993, 0.992, 0.993, 0.992, 0.993, 0.993, 0.990, 0.993, 0.992, 0.993, 0.992, 0.992, 0.990, 0.992, 0.993, 0.994,
    0.997, 0.997, 0.995, 0.995, 0.994, 0.994, 0.990, 0.987, 0.982, 0.980, 0.974, 0.982, 0.990, 0.982, 0.988, 0.988, 0.985, 0.990,
    0.987, 0.990, 0.988, 0.990, 0.988, 0.990, 0.988, 0.990, 0.988, 0.990, 0.988, 0.990, 0.988, 0.990, 0.988, 0.992, 0.990, 0.992,
    0.995, 0.995, 0.995, 0.995, 0.995, 0.995, 0.995, 0.995, 0.995, 0.995, 0.995, 0.995, 0.995, 0.995, 0.995, 0.994, 0.995, 0.995,
    0.995, 0.995, 0.995, 0.995, 0.995, 0.995, 0.995, 0.995, 0.995, 0.994, 0.995, 0.995, 0.995, 0.995, 0.995, 0.995, 0.995, 0.995]

kinley_u255 = list(kinley_u225)
kinley_u255_fair = [
    0.998, 0.998, 0.998, 0.998, 0.998, 0.998, 0.998, 0.998, 0.998, 0.998, 0.998, 0.998, 0.998, 0.998, 0.998, 0.998, 0.998, 0.998, 0.998,
    0.998, 0.997, 0.998, 0.997, 0.998, 0.997, 0.998, 0.998, 0.997, 0.998, 0.997, 0.998, 0.997, 0.997, 0.997, 0.997, 0.998, 0.998,
    0.999, 0.999, 0.998, 0.998, 0.998, 0.998, 0.997, 0.996, 0.995, 0.995, 0.994, 0.995, 0.997, 0.995, 0.996, 0.996, 0.995, 0.997,
    0.996, 0.997, 0.996, 0.997, 0.996, 0.997, 0.996, 0.997, 0.996, 0.997, 0.996, 0.997, 0.996, 0.997, 0.996, 0.997, 0.997, 0.997,
    0.998, 0.998, 0.998, 0.998, 0.998, 0.998, 0.998, 0.998, 0.998, 0.998, 0.998, 0.998, 0.998, 0.998, 0.998, 0.998, 0.998, 0.998,
    0.998, 0.998, 0.998, 0.998, 0.998, 0.998, 0.998, 0.998, 0.998, 0.998, 0.998, 0.998, 0.998, 0.998, 0.998, 0.998, 0.998, 0.998]

kinley_u285 = list(kinley_u225)
kinley_u285_fair = [
    0.999, 0.999, 0.999, 0.999, 0.999, 0.999, 0.999, 0.999, 0.999, 0.999, 0.999, 0.999, 0.999, 0.999, 0.999, 0.999, 0.999, 0.999, 0.999,
    0.999, 0.999, 0.999, 0.999, 0.999, 0.999, 0.999, 0.999, 0.999, 0.999, 0.999, 0.999, 0.999, 0.999, 0.999, 0.999, 0.999, 0.999,
    0.999, 0.999, 0.999, 0.999, 0.999, 0.999, 0.999, 0.998, 0.998, 0.998, 0.998, 0.998, 0.999, 0.998, 0.999, 0.999, 0.998, 0.999,
    0.999, 0.999, 0.999, 0.999, 0.999, 0.999, 0.999, 0.999, 0.999, 0.999, 0.999, 0.999, 0.999, 0.999, 0.999, 0.999, 0.999, 0.999,
    0.999, 0.999, 0.999, 0.999, 0.999, 0.999, 0.999, 0.999, 0.999, 0.999, 0.999, 0.999, 0.999, 0.999, 0.999, 0.999, 0.999, 0.999,
    0.999, 0.999, 0.999, 0.999, 0.999, 0.999, 0.999, 0.999, 0.999, 0.999, 0.999, 0.999, 0.999, 0.999, 0.999, 0.999, 0.999, 0.999]

# ---------------- running strike counts (truth) ----------------
chessa_count = [
    13, 0, 1, 2, 2, 2, 2, 3, 4, 5, 5, 6, 6, 7, 7, 8, 9, 9, 9, 9, 10, 10, 10, 10, 10, 12, 12, 13, 13, 13, 14, 14, 14, 14, 14, 14, 14,
    0, 0, 0, 0, 0, 0, 0, 2, 3, 3, 4, 5, 5, 5, 5, 6, 6, 6, 6, 6, 6, 6, 6, 6, 7, 7, 8, 8, 8, 9, 9, 9, 9, 9, 9, 9,
    0, 0, 0, 1, 1, 2, 2, 3, 3, 3, 3, 3, 4, 4, 4, 5, 6, 7, 7, 7, 7, 8, 8, 8, 8, 8, 9, 9, 9, 11, 11, 11, 11, 12, 13, 14]
kinley_count = [
    10, 0, 1, 2, 2, 2, 2, 2, 3, 3, 3, 3, 3, 3, 4, 5, 5, 5, 6, 6, 6, 8, 12, 13, 13, 16, 16, 16, 17, 18, 18, 18, 18, 18, 18, 18, 18,
    0, 0, 1, 1, 2, 3, 3, 4, 4, 4, 5, 5, 5, 5, 6, 6, 6, 7, 7, 8, 8, 8, 8, 8, 9, 9, 10, 10, 10, 10, 11, 11, 11, 11, 11, 11,
    0, 0, 0, 0, 0, 0, 1, 1, 1, 1, 1, 2, 2, 2, 4, 4, 4, 4, 5, 5, 5, 5, 5, 6, 7, 7, 9, 9, 9, 9, 9, 10, 10, 10, 11, 12]

chessa_lines = [chessa_u45, chessa_u75, chessa_u105, chessa_u135, chessa_u165,
                chessa_u195, chessa_u225, chessa_u255, chessa_u285]
chessa_fair = [chessa_u45_fair, chessa_u75_fair, chessa_u105_fair, chessa_u135_fair, chessa_u165_fair,
               chessa_u195_fair, chessa_u225_fair, chessa_u255_fair, chessa_u285_fair]
kinley_lines = [kinley_u45, kinley_u75, kinley_u105, kinley_u135, kinley_u165,
                kinley_u195, kinley_u225, kinley_u255, kinley_u285]
kinley_fair = [kinley_u45_fair, kinley_u75_fair, kinley_u105_fair, kinley_u135_fair, kinley_u165_fair,
               kinley_u195_fair, kinley_u225_fair, kinley_u255_fair, kinley_u285_fair]

for group in (chessa_lines, chessa_fair, kinley_lines, kinley_fair, [chessa_count, kinley_count]):
    for k, vals in enumerate(group):
        if len(vals) != len(fight_time):
            raise ValueError('bad length %d in series %d' % (len(vals), k))


def mark_rounds(ax):
    ymax = ax.get_ylim()[1]
    for name, start in zip(round_names, round_starts):
        ax.axvline(start, color='gray', linestyle=':', linewidth=0.9, alpha=0.9)
        ax.text(start + 2, ymax * 0.95, name, color='dimgray', fontsize=9, va='center')


def draw_panel(ax, title, lines, fair):
    for lab, col, vals, fvals in zip(line_labels, line_colors, lines, fair):
        ax.fill_between(fight_time, fvals, vals, color=col, alpha=0.1, linewidth=0)
        ax.plot(fight_time, vals, color=col, linewidth=1.6, alpha=0.85, label=lab)
        ax.plot(fight_time, fvals, color=col, linewidth=1.0, linestyle=':', alpha=0.75)
    ax.set_ylim(0, 1.15)
    ax.set_yticks(np.arange(0, 1.151, 0.05))
    ax.set_ylabel('Prob', fontsize=8)
    ax.set_title(title, fontsize=10)
    ax.tick_params(labelsize=8)
    ax.grid(True, axis='y', alpha=0.35)
    ax.legend(loc='upper right', ncol=4, fontsize=6, framealpha=0.85)
    mark_rounds(ax)


fig, (ax1, ax2, ax3) = plt.subplots(3, 1, figsize=(14, 10), dpi=150, sharex=True,
                                    gridspec_kw={'height_ratios': [1.5, 1.5, 1]})
fig.subplots_adjust(left=0.044, right=0.989, top=0.966, bottom=0.055, hspace=0.145)

draw_panel(ax1, 'CHRISTIAN CHESSA \u2014 Total Strikes Landed R4 Under Leadup (R2-R4) (Event 16178)',
           chessa_lines, chessa_fair)
draw_panel(ax2, 'DELVIN MCKINLEY \u2014 Total Strikes Landed R4 Under Leadup (R2-R4) (Event 16178)',
           kinley_lines, kinley_fair)

ax3.plot(fight_time, chessa_count, color='red', linewidth=1.8, alpha=0.7,
         label='Truth CHRISTIAN CHESSA: %d' % chessa_count[-1])
ax3.plot(fight_time, kinley_count, color='blue', linewidth=1.8, alpha=0.7,
         label='Truth DELVIN MCKINLEY: %d' % kinley_count[-1])
ax3.set_ylabel('Count', fontsize=9)
ax3.set_xlabel('Fight time (seconds)', fontsize=10)
ax3.tick_params(labelsize=8)
ax3.grid(True, axis='y', alpha=0.35)
ax3.legend(loc='upper left', fontsize=7)
mark_rounds(ax3)

ax3.set_xlim(153, 747)

fig.savefig('out.png', dpi=150)
